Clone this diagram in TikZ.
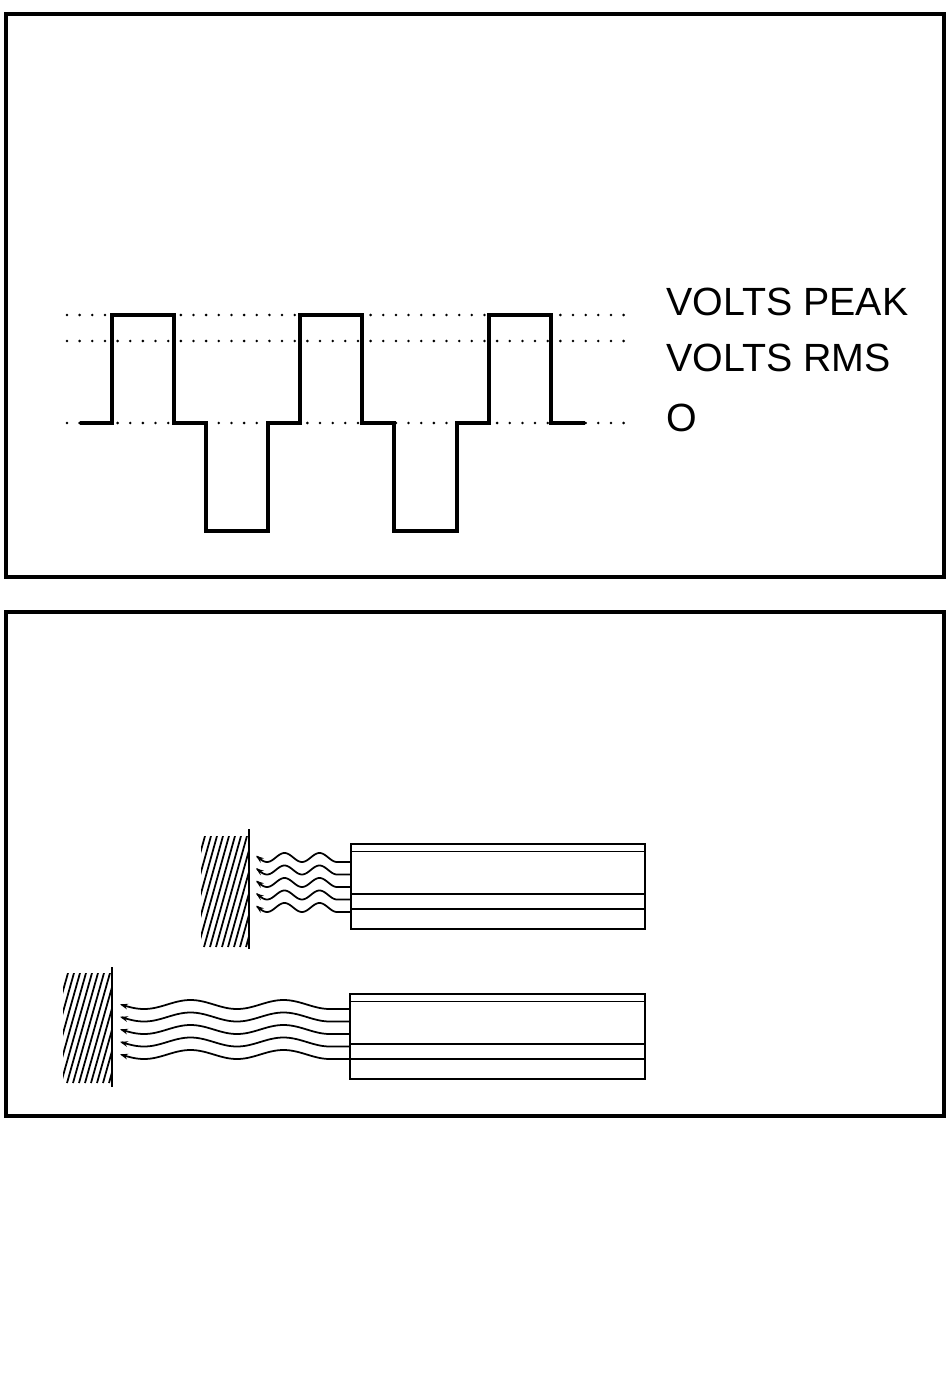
\documentclass[tikz,border=0pt]{standalone}
\usepackage{fontspec}
\setmainfont{Liberation Sans}
\usetikzlibrary{arrows.meta}

\tikzset{
    frame/.style={line width=2.2pt},
    level/.style={line width=1.6pt, line cap=round, dash pattern=on 0pt off 7.2pt},
    signal/.style={line width=2pt},
    label/.style={anchor=base west, inner sep=0pt, font=\fontsize{22.4}{26}\selectfont},
    wall/.style={line width=1.7pt},
    hatch/.style={line width=1pt},
    tube/.style={line width=1.1pt},
    wave/.style={line width=1pt, -{Stealth[length=4.5pt, width=3.2pt]}}
}

\begin{document}
\begin{tikzpicture}[x=0.02cm, y=-0.02cm]

    \useasboundingbox (0,0) rectangle (950,1398);

    % Panel 1: square wave with peak, rms and zero levels
    \draw[frame] (6,14) rectangle (944,577);
    \foreach \lev in {315,341,423} {
        \draw[level] (67,\lev) -- (635,\lev);
    }
    \draw[signal] (80,423) -- (112,423) -- (112,315) -- (174,315) -- (174,423)
        -- (206,423) -- (206,531) -- (268,531) -- (268,423)
        -- (300,423) -- (300,315) -- (362,315) -- (362,423)
        -- (394,423) -- (394,531) -- (457,531) -- (457,423)
        -- (489,423) -- (489,315) -- (551,315) -- (551,423) -- (585,423);
    \node[label] (peak) at (666,316) {VOLTS PEAK};
    \node[label] (rms) at (666,372) {VOLTS RMS};
    \node[label] (zero) at (666,431) {O};

    % Panel 2: short and long waves between wall and tube
    \draw[frame] (6,612) rectangle (944,1116);

    % Upper wall with short waves
    \begin{scope}
        \clip (201,836) rectangle (248,947);
        \foreach \i in {0,...,13} {
            \draw[hatch] (168+6*\i,947) -- (199+6*\i,836);
        }
    \end{scope}
    \draw[wall] (249,829) -- (249,949);
    \foreach \lev in {862,874.5,887,899.5,912} {
        \draw[wave] (351,\lev) -- (337,\lev)
            -- plot[domain=337:256, samples=80] (\x, {\lev-4.5+4.5*cos(10.2857*(\x-337))});
    }
    \draw[tube] (351,844) rectangle (645,929);
    \foreach \lev in {851.5,894,909} {
        \draw[tube] (351,\lev) -- (645,\lev);
    }

    % Lower wall with long waves
    \begin{scope}
        \clip (63,973) rectangle (111,1083);
        \foreach \i in {0,...,13} {
            \draw[hatch] (31+6*\i,1083) -- (62+6*\i,973);
        }
    \end{scope}
    \draw[wall] (112,967) -- (112,1087);
    \foreach \lev in {1009,1021.5,1034,1046.5,1059} {
        \draw[wave] (350,\lev) -- (330,\lev)
            -- plot[domain=330:120, samples=120] (\x, {\lev-4.5+4.5*cos(3.871*(\x-330))});
    }
    \draw[tube] (350,994) rectangle (645,1079);
    \foreach \lev in {1001.5,1044,1059} {
        \draw[tube] (350,\lev) -- (645,\lev);
    }

\end{tikzpicture}
\end{document}
